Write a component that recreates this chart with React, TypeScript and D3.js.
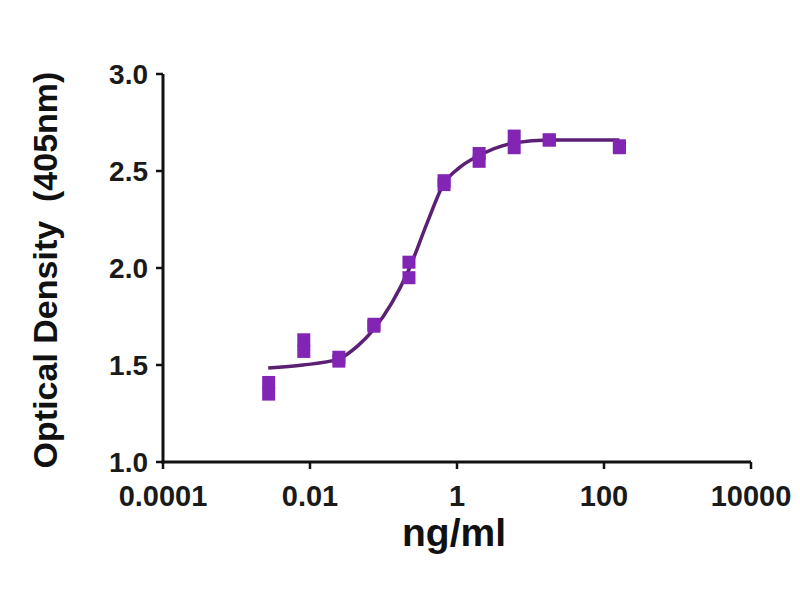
import { scaleLog, scaleLinear, line, curveMonotoneX } from "d3";

// ng/ml, 3-fold dilution series (one step skipped at the top)
const concentrations = [0.00274, 0.00823, 0.0247, 0.0741, 0.222, 0.667, 2, 6, 18, 162];
const replicateA = [1.41, 1.63, 1.54, 1.71, 2.03, 2.45, 2.59, 2.68, 2.66, 2.63];
const replicateB = [1.35, 1.57, 1.52, 1.70, 1.95, 2.43, 2.55, 2.62, 2.66, 2.62];

// fitted curve
const fitX = [0.0027, 0.008, 0.024, 0.045, 0.072, 0.13, 0.22, 0.4, 0.65, 1.1, 2, 6, 18, 162];
const fitY = [1.485, 1.5, 1.53, 1.6, 1.68, 1.82, 1.99, 2.24, 2.43, 2.52, 2.58, 2.645, 2.66, 2.66];

const xTicks = [0.0001, 0.01, 1, 100, 10000];
const xTickLabels = ["0.0001", "0.01", "1", "100", "10000"];
const yTicks = [1.0, 1.5, 2.0, 2.5, 3.0];

const FONT = "'Liberation Sans', Arial, Helvetica, sans-serif";
const MARKER = "#8224b4";
const LINE = "#5b1f73";

export default function App() {
  const width = 800;
  const height = 600;

  const x = scaleLog().domain([1e-4, 1e4]).range([163, 751]);
  const y = scaleLinear().domain([1, 3]).range([462, 74]);

  const fitPoints = fitX.map((c, i) => [c, fitY[i]] as [number, number]);
  const path = line<[number, number]>()
    .x((d) => x(d[0]))
    .y((d) => y(d[1]))
    .curve(curveMonotoneX)(fitPoints);

  const size = 13;
  const points = concentrations.flatMap((c, i) => [
    { c, v: replicateA[i], k: `a${i}` },
    { c, v: replicateB[i], k: `b${i}` },
  ]);

  return (
    <div style={{ position: "fixed", left: 0, top: 0, background: "#fff" }}>
      <svg width={width} height={height} viewBox={`0 0 ${width} ${height}`}>
        <rect width={width} height={height} fill="#fff" />

        {/* fitted curve */}
        <path d={path || ""} fill="none" stroke={LINE} strokeWidth={3.5} />

        {/* replicate markers */}
        {points.map((p) => (
          <rect
            key={p.k}
            x={x(p.c) - size / 2}
            y={y(p.v) - size / 2}
            width={size}
            height={size}
            fill={MARKER}
          />
        ))}

        {/* y axis */}
        <line x1={163} x2={163} y1={y(3)} y2={y(1) + 1.5} stroke="#111" strokeWidth={3} />
        {yTicks.map((t) => (
          <g key={t}>
            <line x1={156} x2={163} y1={y(t)} y2={y(t)} stroke="#111" strokeWidth={2.5} />
            <text
              x={148}
              y={y(t)}
              dy="0.36em"
              textAnchor="end"
              fontFamily={FONT}
              fontWeight="bold"
              fontSize={28}
              fill="#1a1a1a"
            >
              {t.toFixed(1)}
            </text>
          </g>
        ))}

        {/* x axis */}
        <line x1={161.5} x2={x(1e4)} y1={462} y2={462} stroke="#111" strokeWidth={3} />
        {xTicks.map((t, i) => (
          <g key={t}>
            <line x1={x(t)} x2={x(t)} y1={462} y2={469} stroke="#111" strokeWidth={2.5} />
            <text
              x={x(t)}
              y={506}
              textAnchor="middle"
              fontFamily={FONT}
              fontWeight="bold"
              fontSize={29}
              fill="#1a1a1a"
            >
              {xTickLabels[i]}
            </text>
          </g>
        ))}

        {/* axis titles */}
        <text
          x={454}
          y={546}
          textAnchor="middle"
          fontFamily={FONT}
          fontWeight="bold"
          fontSize={39}
          fill="#111"
        >
          ng/ml
        </text>
        <text
          transform="translate(57,270) rotate(-90)"
          textAnchor="middle"
          fontFamily={FONT}
          fontWeight="bold"
          fontSize={34}
          fill="#111"
          xmlSpace="preserve"
        >
          {"Optical Density  (405nm)"}
        </text>
      </svg>
    </div>
  );
}
